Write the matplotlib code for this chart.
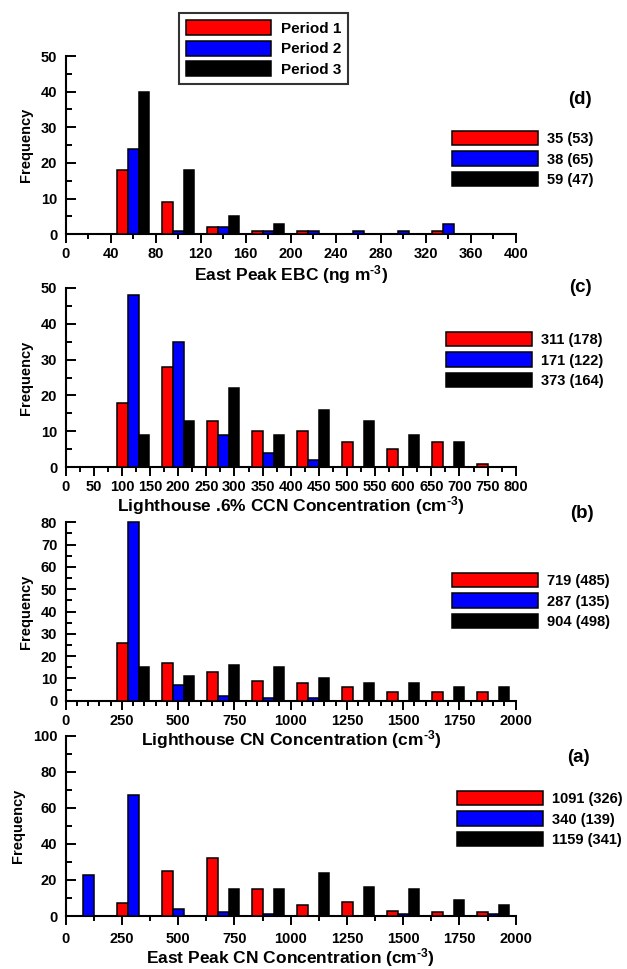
import matplotlib
matplotlib.use('Agg')
import matplotlib.pyplot as plt
from matplotlib.patches import Patch
from matplotlib.ticker import MultipleLocator

plt.rcParams['font.family'] = ['Liberation Sans', 'DejaVu Sans']
plt.rcParams['font.weight'] = 'bold'
plt.rcParams['mathtext.fontset'] = 'custom'
plt.rcParams['mathtext.rm'] = 'Liberation Sans:bold'
plt.rcParams['mathtext.bf'] = 'Liberation Sans:bold'
plt.rcParams['mathtext.it'] = 'Liberation Sans:bold'

colors = ['#ff0000', '#0000ff', '#000000']
periods = ['Period 1', 'Period 2', 'Period 3']

# (d) East Peak EBC, 40 ng m-3 bins
d_centers = [60, 100, 140, 180, 220, 260, 300, 340]
d_p1 = [18, 9, 2, 1, 1, 0, 0, 1]
d_p2 = [24, 1, 2, 1, 1, 1, 1, 3]
d_p3 = [40, 18, 5, 3, 0, 0, 0, 0]
d_stats = ['35 (53)', '38 (65)', '59 (47)']

# (c) Lighthouse .6% CCN, 80 cm-3 bins
c_centers = [120, 200, 280, 360, 440, 520, 600, 680, 760]
c_p1 = [18, 28, 13, 10, 10, 7, 5, 7, 1]
c_p2 = [48, 35, 9, 4, 2, 0, 0, 0, 0]
c_p3 = [9, 13, 22, 9, 16, 13, 9, 7, 0]
c_stats = ['311 (178)', '171 (122)', '373 (164)']

# (b) Lighthouse CN, 200 cm-3 bins
b_centers = [100, 300, 500, 700, 900, 1100, 1300, 1500, 1700, 1900]
b_p1 = [0, 26, 17, 13, 9, 8, 6, 4, 4, 4]
b_p2 = [0, 80, 7, 2, 1, 1, 0, 0, 0, 0]
b_p3 = [0, 15, 11, 16, 15, 10, 8, 8, 6, 6]
b_stats = ['719 (485)', '287 (135)', '904 (498)']

# (a) East Peak CN, 200 cm-3 bins
a_centers = [100, 300, 500, 700, 900, 1100, 1300, 1500, 1700, 1900]
a_p1 = [0, 7, 25, 32, 15, 6, 8, 3, 2, 2]
a_p2 = [23, 67, 4, 2, 1, 0, 0, 1, 0, 1]
a_p3 = [0, 0, 0, 15, 15, 24, 16, 15, 9, 6]
a_stats = ['1091 (326)', '340 (139)', '1159 (341)']

W, H = 627, 969
fig = plt.figure(figsize=(W / 100, H / 100), dpi=100)


def px(x, y):
    return x / W, 1 - y / H


def panel(top, bottom, centers, series, binw, xmax, xmaj, xmin_, ymax, ymaj, ymin_,
          xlabel, stats, leg_xy, letter, letter_xy, xpad, lpad):
    l, b = px(65.7, bottom)
    _, t = px(0, top)
    ax = fig.add_axes([l, b, 450 / W, t - b])
    ax.patch.set_visible(False)
    bw = 0.2375 * binw
    for k, vals in enumerate(series):
        xs = [c + (k - 1) * bw for c in centers]
        ax.bar(xs, vals, width=bw, color=colors[k], edgecolor='black',
               linewidth=1.1, clip_on=False, zorder=3)
    ax.set_xlim(0, xmax)
    ax.set_ylim(0, ymax)
    ax.xaxis.set_major_locator(MultipleLocator(xmaj))
    ax.xaxis.set_minor_locator(MultipleLocator(xmin_))
    ax.yaxis.set_major_locator(MultipleLocator(ymaj))
    ax.yaxis.set_minor_locator(MultipleLocator(ymin_))
    for s in ['top', 'right']:
        ax.spines[s].set_visible(False)
    for s in ['left', 'bottom']:
        ax.spines[s].set_linewidth(1.5)
    ax.tick_params(axis='x', which='major', direction='out', length=6.5, width=1.4,
                   labelsize=10.5, pad=xpad)
    ax.tick_params(axis='x', which='minor', direction='out', length=3.5, width=1.4)
    ax.tick_params(axis='y', which='major', direction='in', length=7, width=1.4,
                   labelsize=10.5, pad=6)
    ax.tick_params(axis='y', which='minor', direction='in', length=4, width=1.4)
    for lab in ax.get_xticklabels() + ax.get_yticklabels():
        lab.set_fontweight('bold')
    ax.set_xlabel(xlabel, fontsize=12.5, fontweight='bold', labelpad=lpad)
    ax.set_ylabel('Frequency', fontsize=10.5, fontweight='bold', labelpad=6)
    handles = [Patch(facecolor=c, edgecolor='black', linewidth=1.1) for c in colors]
    fig.legend(handles, stats, loc='upper left', bbox_to_anchor=px(*leg_xy),
               frameon=False, borderpad=0, borderaxespad=0, handlelength=5.9,
               handleheight=1.15, handletextpad=0.6, labelspacing=0.36,
               prop={'size': 10.5, 'weight': 'bold'})
    fig.text(*px(*letter_xy), letter, fontsize=13.5, fontweight='bold',
             ha='center', va='center')
    return ax


ax_d = panel(56, 234.3, d_centers, [d_p1, d_p2, d_p3], 40, 400, 40, 20, 50, 10, 5,
             r'East Peak EBC (ng m$^{\text{-}3}$)', d_stats, (452, 131), '(d)',
             (580, 100), 3, 1)
ax_c = panel(287.7, 467.3, c_centers, [c_p1, c_p2, c_p3], 80, 800, 50, 25, 50, 10, 5,
             r'Lighthouse .6% CCN Concentration (cm$^{\text{-}3}$)', c_stats, (446, 332),
             '(c)', (580, 288), 3, 0)
ax_b = panel(522.3, 700.7, b_centers, [b_p1, b_p2, b_p3], 200, 2000, 250, 50, 80, 10, 5,
             r'Lighthouse CN Concentration (cm$^{\text{-}3}$)', b_stats, (452, 573),
             '(b)', (582, 514), 3, 0)
ax_a = panel(735.7, 916, a_centers, [a_p1, a_p2, a_p3], 200, 2000, 250, 125, 100, 20, 10,
             r'East Peak CN Concentration (cm$^{\text{-}3}$)', a_stats, (457, 791),
             '(a)', (578, 757), 5, 0)

handles = [Patch(facecolor=c, edgecolor='black', linewidth=1.1) for c in colors]
leg = fig.legend(handles, periods, loc='upper left', bbox_to_anchor=px(179, 13),
                 frameon=True, fancybox=False, edgecolor='black', borderpad=0.45,
                 borderaxespad=0, handlelength=5.6, handleheight=1.15,
                 handletextpad=0.6, labelspacing=0.32,
                 prop={'size': 11, 'weight': 'bold'})
leg.get_frame().set_linewidth(1.5)

fig.savefig('out.png', dpi=100)
